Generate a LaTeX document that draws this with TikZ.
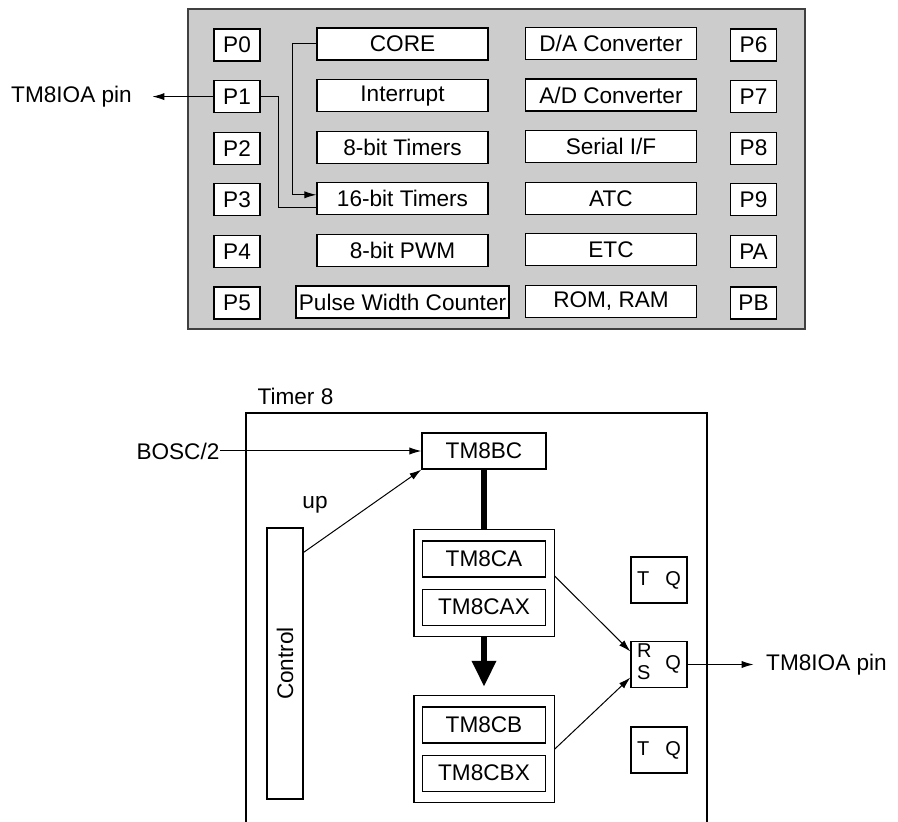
\documentclass[tikz,border=0pt]{standalone}
\usepackage{fontspec}
\setmainfont{Liberation Sans}
\usetikzlibrary{arrows.meta,positioning,fit}
\newcommand{\lblfont}{\fontsize{11.3}{13.4}\selectfont}
\newcommand{\fffont}{\fontsize{10}{11}\selectfont}

\begin{document}
\begin{tikzpicture}[x=0.5pt, y=-0.5pt, font=\lblfont, line width=0.6pt,
    box/.style={draw, fill=white, inner sep=0pt, minimum height=16pt},
    port/.style={box, minimum width=23pt},
    unit/.style={box, minimum width=85.5pt},
    reg/.style={box, minimum width=61.5pt, minimum height=18pt},
    ff/.style={box, minimum width=28pt, minimum height=23pt, font=\fffont},
    arr/.style={-{Latex[length=6pt, width=3.6pt]}, line width=0.5pt},
    bus/.style={line width=3.4pt},
    node distance=9.2pt]
  \useasboundingbox (0,0) rectangle (898,822);
  % chip overview
  \draw[fill=black!20, draw=black!75] (188,9) rectangle (805,329);
  \node[port] (p0) at (237,45) {P0};
  \node[port, below=of p0] (p1) {P1};
  \node[port, below=of p1] (p2) {P2};
  \node[port, below=of p2] (p3) {P3};
  \node[port, below=of p3] (p4) {P4};
  \node[port, below=of p4] (p5) {P5};
  \node[unit] (core) at (402.5,44) {CORE};
  \node[unit, below=of core] (intr) {Interrupt};
  \node[unit, below=of intr] (t8) {8-bit Timers};
  \node[unit, below=of t8] (t16) {16-bit Timers};
  \node[unit, below=of t16] (pwm) {8-bit PWM};
  \node[unit, below=of pwm, minimum width=106.5pt] (pwc) {Pulse Width Counter};
  \node[unit] (dac) at (611,43.5) {D/A Converter};
  \node[unit, below=of dac] (adc) {A/D Converter};
  \node[unit, below=of adc] (sif) {Serial I/F};
  \node[unit, below=of sif] (atc) {ATC};
  \node[unit, below=of atc] (etc) {ETC};
  \node[unit, below=of etc] (mem) {ROM, RAM};
  \node[port] (p6) at (753.5,45) {P6};
  \node[port, below=of p6] (p7) {P7};
  \node[port, below=of p7] (p8) {P8};
  \node[port, below=of p8] (p9) {P9};
  \node[port, below=of p9] (pa) {PA};
  \node[port, below=of pa] (pb) {PB};
  \node[left=40.5pt of p1, inner sep=0pt] (pinA) {TM8IOA pin};
  \draw[arr, shorten >=10pt] (p1) -- (pinA);
  \draw[line width=0.5pt] (p1.east) -- ++(18,0) |- ([yshift=-4.5pt]t16.west);
  \draw[arr] (core.west) -- ++(-24,0) |- ([yshift=2pt]t16.west);

  % timer 8 detail
  \draw (246,822) -- (246,413) -- (707,413) -- (707,822);
  \node[anchor=base west, inner sep=0pt] (t8lbl) at (257,405) {Timer 8};
  \node[box, minimum width=62pt, minimum height=18pt] (tm8bc) at (484,451) {TM8BC};
  \node[anchor=east, inner sep=0pt] (bosc) at (220,451) {BOSC/2};
  \node[box, minimum width=18pt, minimum height=135.5pt] (ctrl) at (285,663.5) {};
  \node[rotate=90] (ctrltxt) at (ctrl) {Control};
  \node (uplbl) at (315,505) {up};
  \node[reg] (ca) at (484,559) {TM8CA};
  \node[reg, below=5.5pt of ca] (cax) {TM8CAX};
  \node[draw, inner xsep=4pt, inner ysep=5.5pt, fit=(ca)(cax)] (grpA) {};
  \node[reg] (cb) at (484,725) {TM8CB};
  \node[reg, below=5.5pt of cb] (cbx) {TM8CBX};
  \node[draw, inner xsep=4pt, inner ysep=5.5pt, fit=(cb)(cbx)] (grpB) {};
  \node[ff] (ffa) at (659,580) {T\hspace{8pt}Q};
  \node[ff] (rs) at (659,664.5) {$\vcenter{\hbox{\begin{tabular}{@{}l@{}}R\\S\end{tabular}}}\hspace{7pt}\vcenter{\hbox{Q}}$};
  \node[ff] (ffb) at (659,750) {T\hspace{8pt}Q};
  \node[right=39pt of rs, inner sep=0pt] (pinB) {TM8IOA pin};
  \draw[arr] (bosc) -- (tm8bc);
  \draw[arr] ([yshift=-12.5pt]ctrl.north east) -- (tm8bc.south west);
  \draw[bus] (tm8bc) -- (grpA);
  \draw[bus, -{Triangle[length=13pt, width=11.5pt]}, shorten >=4pt] (grpA) -- (grpB);
  \draw[arr] ([yshift=3.5pt]grpA.east) -- ([yshift=6.5pt]rs.west);
  \draw[arr] (grpB.east) -- ([yshift=-6.5pt]rs.west);
  \draw[arr, shorten >=6pt] (rs) -- (pinB);
\end{tikzpicture}
\end{document}
